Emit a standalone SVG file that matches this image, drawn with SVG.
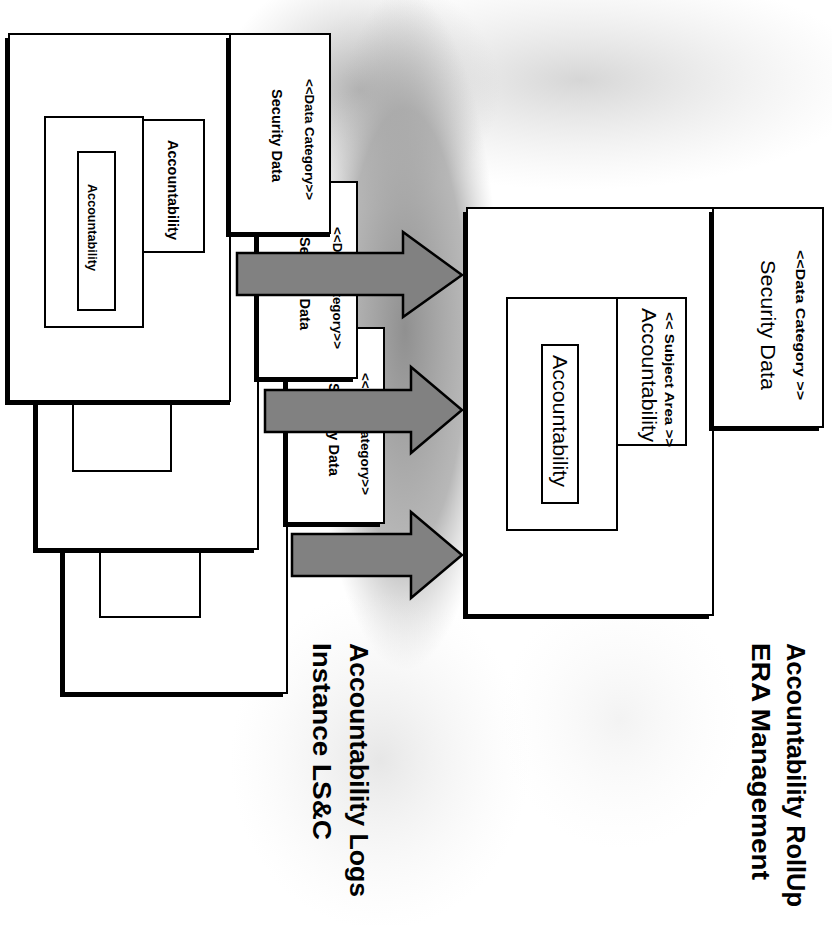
<svg xmlns="http://www.w3.org/2000/svg" width="832" height="926" viewBox="0 0 832 926">
  <defs>
    <style>
      .box{fill:#fff;stroke:#000;stroke-width:2}
      .shadow{fill:#000}
      .arrow{fill:#818181;stroke:#000;stroke-width:2.5;stroke-linejoin:miter}
      text{font-family:"Liberation Sans",Arial,sans-serif;fill:#000}
      .b{font-weight:bold}
      .ttl{font-weight:bold;font-size:25px}
    </style>
    <radialGradient id="hazeDark" cx="0.5" cy="0.5" r="0.5">
      <stop offset="0" stop-color="#8a8a8a" stop-opacity="0.95"/>
      <stop offset="0.65" stop-color="#a0a0a0" stop-opacity="0.75"/>
      <stop offset="1" stop-color="#c0c0c0" stop-opacity="0"/>
    </radialGradient>
    <radialGradient id="hazeMid" cx="0.5" cy="0.5" r="0.5">
      <stop offset="0" stop-color="#a4a4a4" stop-opacity="0.85"/>
      <stop offset="1" stop-color="#c8c8c8" stop-opacity="0"/>
    </radialGradient>
    <radialGradient id="hazeSoft" cx="0.5" cy="0.5" r="0.5">
      <stop offset="0" stop-color="#c4c4c4" stop-opacity="0.7"/>
      <stop offset="1" stop-color="#dddddd" stop-opacity="0"/>
    </radialGradient>
    <radialGradient id="hazeLight" cx="0.5" cy="0.5" r="0.5">
      <stop offset="0" stop-color="#d6d6d6" stop-opacity="0.6"/>
      <stop offset="1" stop-color="#eeeeee" stop-opacity="0"/>
    </radialGradient>
  </defs>

  <!-- shaded backdrop -->
  <rect width="832" height="926" fill="#fff"/>
  <ellipse cx="580" cy="80" rx="290" ry="110" fill="url(#hazeSoft)"/>
  <ellipse cx="360" cy="90" rx="140" ry="120" fill="url(#hazeMid)"/>
  <ellipse cx="405" cy="330" rx="95" ry="340" fill="url(#hazeDark)"/>
  <ellipse cx="380" cy="760" rx="150" ry="170" fill="url(#hazeLight)"/>
  <ellipse cx="620" cy="720" rx="120" ry="130" fill="url(#hazeLight)" opacity="0.5"/>

  <!-- back log instance package -->
  <g id="log-package-3">
    <rect class="shadow" x="60" y="332" width="223" height="365"/>
    <rect class="box" x="64" y="328" width="223" height="365"/>
    <rect class="shadow" x="283" y="332" width="97" height="195"/>
    <rect class="box" x="287" y="328" width="97" height="195"/>
    <text class="b" font-size="13" transform="translate(361,373) rotate(90)" textLength="122" lengthAdjust="spacingAndGlyphs">&lt;&lt;Data Category&gt;&gt;</text>
    <text class="b" font-size="14" transform="translate(329,383) rotate(90)" textLength="93" lengthAdjust="spacingAndGlyphs">Security Data</text>
    <rect class="box" x="100" y="420" width="100" height="197"/>
  </g>

  <!-- middle log instance package -->
  <g id="log-package-2">
    <rect class="shadow" x="33" y="186" width="221" height="367"/>
    <rect class="box" x="37" y="182" width="221" height="367"/>
    <rect class="shadow" x="254" y="186" width="99" height="196"/>
    <rect class="box" x="258" y="182" width="99" height="196"/>
    <text class="b" font-size="13" transform="translate(333,227) rotate(90)" textLength="122" lengthAdjust="spacingAndGlyphs">&lt;&lt;Data Category&gt;&gt;</text>
    <text class="b" font-size="14" transform="translate(300,237) rotate(90)" textLength="93" lengthAdjust="spacingAndGlyphs">Security Data</text>
    <rect class="box" x="73" y="265" width="98" height="206"/>
  </g>

  <!-- front log instance package -->
  <g id="log-package-1">
    <rect class="shadow" x="5" y="38" width="225" height="367"/>
    <rect class="box" x="9" y="34" width="221" height="367"/>
    <rect class="shadow" x="226" y="38" width="104" height="199"/>
    <rect class="box" x="230" y="34" width="100" height="199"/>
    <text class="b" font-size="13" transform="translate(305,79) rotate(90)" textLength="121" lengthAdjust="spacingAndGlyphs">&lt;&lt;Data Category&gt;&gt;</text>
    <text class="b" font-size="14" transform="translate(272,89) rotate(90)" textLength="93" lengthAdjust="spacingAndGlyphs">Security Data</text>
    <g id="log-subject-area-1">
      <rect class="box" x="45" y="117" width="98" height="210"/>
      <rect class="box" x="143" y="120" width="61" height="132"/>
      <text class="b" font-size="14" transform="translate(168,140) rotate(90)" textLength="100" lengthAdjust="spacingAndGlyphs">Accountability</text>
      <rect class="box" x="78" y="152" width="37" height="158"/>
      <text class="b" font-size="13" transform="translate(88,184) rotate(90)" textLength="87" lengthAdjust="spacingAndGlyphs">Accountability</text>
    </g>
  </g>

  <!-- roll-up package -->
  <g id="rollup-package">
    <rect class="shadow" x="463" y="212" width="246" height="407"/>
    <rect class="box" x="467" y="208" width="246" height="407"/>
    <rect class="shadow" x="709" y="212" width="110" height="219"/>
    <rect class="box" x="713" y="208" width="110" height="219"/>
    <text class="b" font-size="12" transform="translate(796,250) rotate(90)" textLength="150" lengthAdjust="spacingAndGlyphs">&lt;&lt;Data Category &gt;&gt;</text>
    <text font-size="21" transform="translate(761,260) rotate(90)" textLength="130" lengthAdjust="spacingAndGlyphs">Security Data</text>
    <g id="rollup-subject-area">
      <rect class="box" x="507" y="298" width="110" height="232"/>
      <rect class="box" x="617" y="298" width="69" height="147"/>
      <text class="b" font-size="12" transform="translate(665,312) rotate(90)" textLength="135" lengthAdjust="spacingAndGlyphs">&lt;&lt; Subject Area &gt;&gt;</text>
      <text font-size="21" transform="translate(642,308) rotate(90)" textLength="134" lengthAdjust="spacingAndGlyphs">Accountability</text>
      <rect class="box" x="542" y="345" width="36" height="158"/>
      <text font-size="20" transform="translate(553,355) rotate(90)" textLength="132" lengthAdjust="spacingAndGlyphs">Accountability</text>
    </g>
  </g>

  <!-- roll-up flow arrows -->
  <g id="connectors">
    <path class="arrow" d="M237,253 H403 V232 L462,275 L403,317 V295 H237 Z"/>
    <path class="arrow" d="M265,390 H411 V367 L462,410 L411,453 V432 H265 Z"/>
    <path class="arrow" d="M292,534 H411 V512 L462,555 L411,598 V576 H292 Z"/>
  </g>

  <!-- captions -->
  <g id="caption-rollup">
    <text class="ttl" transform="translate(787,643) rotate(90)" textLength="264" lengthAdjust="spacingAndGlyphs">Accountability RollUp</text>
    <text class="ttl" transform="translate(752,643) rotate(90)" textLength="237" lengthAdjust="spacingAndGlyphs">ERA Management</text>
  </g>
  <g id="caption-logs">
    <text class="ttl" transform="translate(350,643) rotate(90)" textLength="254" lengthAdjust="spacingAndGlyphs">Accountability Logs</text>
    <text class="ttl" transform="translate(313,643) rotate(90)" textLength="197" lengthAdjust="spacingAndGlyphs">Instance LS&amp;C</text>
  </g>
</svg>
